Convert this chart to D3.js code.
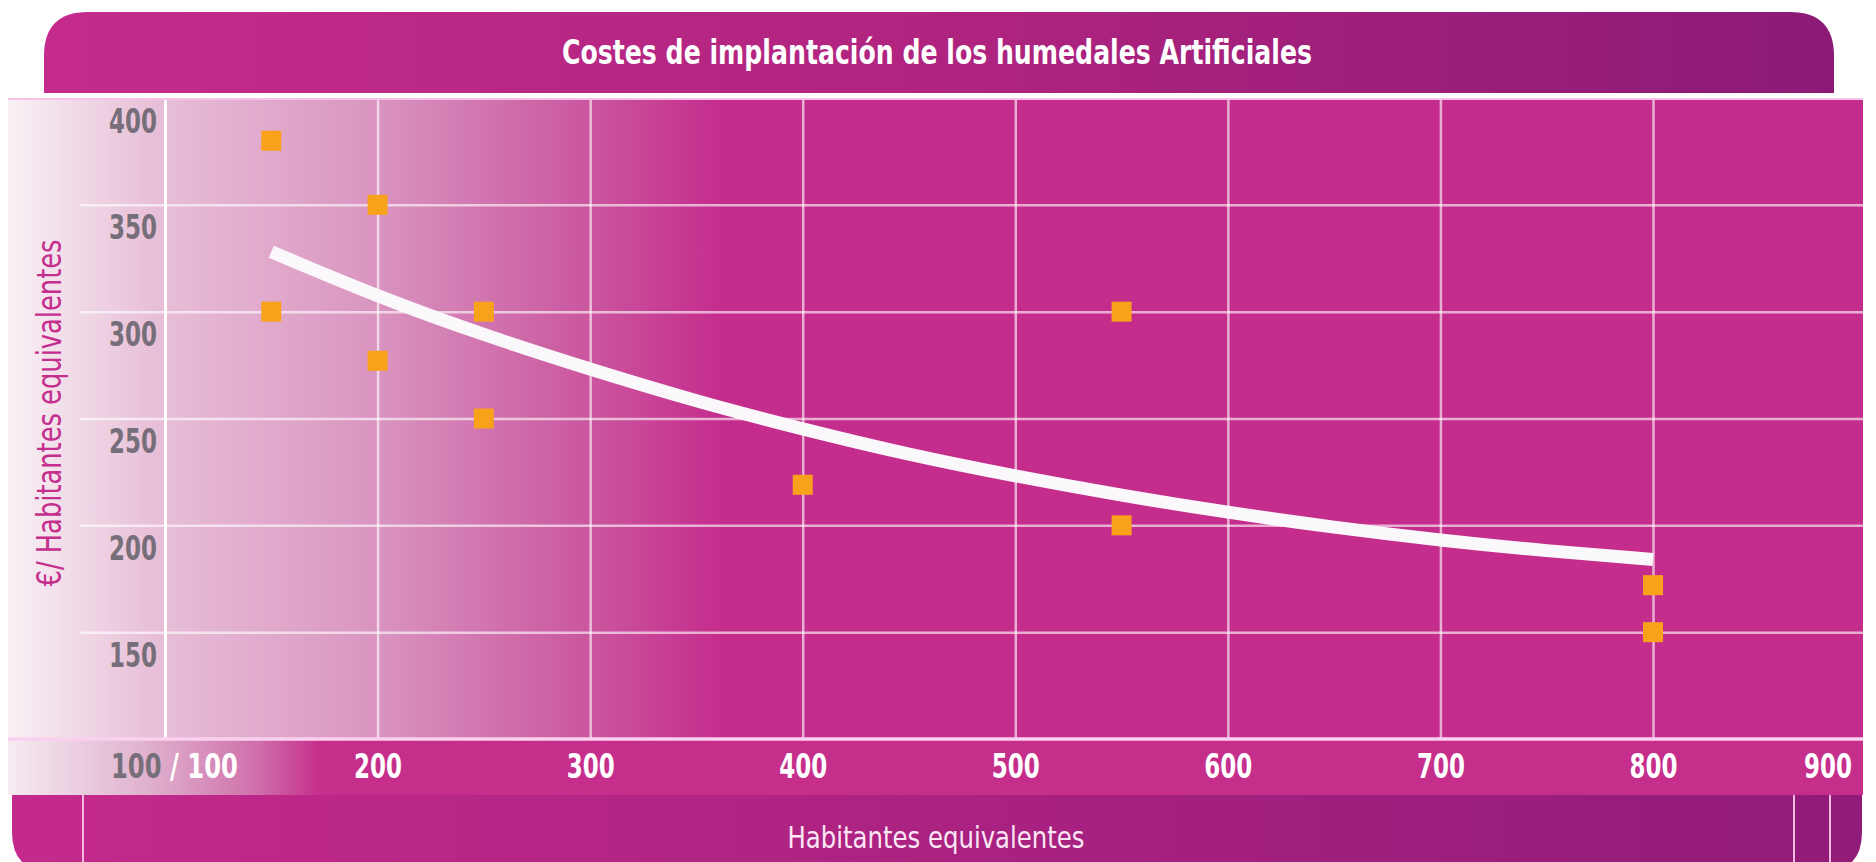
<!DOCTYPE html>
<html>
<head>
<meta charset="utf-8">
<script src="https://cdn.jsdelivr.net/npm/d3@7"></script>
<style>
  html, body { margin: 0; padding: 0; background: #ffffff; }
  svg { display: block; }
</style>
</head>
<body>
<svg id="chart" width="1876" height="862"></svg>
<script>
// data
const chartTitle = "Costes de implantación de los humedales Artificiales";
const xTitle = "Habitantes equivalentes";
const yTitle = "€/ Habitantes equivalentes";

const xTicks = [100, 200, 300, 400, 500, 600, 700, 800, 900];
const yTicks = [100, 150, 200, 250, 300, 350, 400];

// orange squares (habitantes, €/hab)
const pointX = [150, 150, 200, 200, 250, 250, 400, 550, 550, 800, 800];
const pointY = [380, 300, 350, 277, 300, 250, 219, 300, 200, 172, 150];

// white trend curve, read at every 50 habitantes
const trendX = [150, 200, 250, 300, 350, 400, 450, 500, 550, 600, 650, 700, 750, 800];
const trendY = [328, 307, 289, 273, 258, 245, 233, 223, 214, 206, 199, 193, 188, 184];

const FONT = "'Liberation Sans Narrow', 'DejaVu Sans Condensed', 'Roboto Condensed', sans-serif";

const svg = d3.select("#chart");
const defs = svg.append("defs");

// plot box
const plotLeft = 8, plotRight = 1863, plotTop = 98, plotBottom = 739;
const bandBottom = 795;

const x = d3.scaleLinear().domain([100, 800]).range([165, 1653]);
const y = d3.scaleLinear().domain([100, 400]).range([plotBottom, plotTop]);

function linearGrad(id, x1, x2, stops) {
  const g = defs.append("linearGradient")
    .attr("id", id)
    .attr("gradientUnits", "userSpaceOnUse")
    .attr("x1", x1).attr("x2", x2).attr("y1", 0).attr("y2", 0);
  stops.forEach(s => g.append("stop").attr("offset", s[0]).attr("stop-color", s[1]));
}

linearGrad("plotGrad", plotLeft, 720, [
  [0, "#f8f1f5"], [0.2, "#e8c0d8"], [0.52, "#d994c0"], [0.82, "#ca559e"], [1, "#c52d8d"]
]);
linearGrad("bandGrad", 10, 320, [
  [0, "#f6eaf1"], [0.45, "#dfb0cd"], [0.8, "#cf6fab"], [1, "#c62e8c"]
]);
linearGrad("titleGrad", 44, 1834, [
  [0, "#c42b8c"], [0.5, "#b0247f"], [1, "#8b1a76"]
]);
linearGrad("bottomGrad", 12, 1862, [
  [0, "#c42a8b"], [0.5, "#ab2281"], [1, "#911b79"]
]);

// title banner with rounded top corners
const tb = { x0: 44, x1: 1834, y0: 12, y1: 93, r: 44 };
svg.append("path")
  .attr("d", `M${tb.x0},${tb.y1} L${tb.x0},${tb.y0 + tb.r} Q${tb.x0},${tb.y0} ${tb.x0 + tb.r},${tb.y0}
    L${tb.x1 - tb.r},${tb.y0} Q${tb.x1},${tb.y0} ${tb.x1},${tb.y0 + tb.r} L${tb.x1},${tb.y1} Z`)
  .attr("fill", "url(#titleGrad)");

svg.append("text")
  .attr("x", 937).attr("y", 64)
  .attr("text-anchor", "middle")
  .attr("font-family", FONT).attr("font-weight", "bold").attr("font-size", 33)
  .attr("textLength", 750).attr("lengthAdjust", "spacingAndGlyphs")
  .attr("fill", "#ffffff")
  .text(chartTitle);

// plot background and label band
svg.append("rect")
  .attr("x", plotLeft).attr("y", plotTop)
  .attr("width", plotRight - plotLeft).attr("height", plotBottom - plotTop)
  .attr("fill", "url(#plotGrad)");
svg.append("rect")
  .attr("x", plotLeft).attr("y", plotBottom)
  .attr("width", plotRight - plotLeft).attr("height", bandBottom - plotBottom)
  .attr("fill", "url(#bandGrad)");

// bottom band with rounded bottom corners
const bb = { x0: 12, x1: 1862, y0: bandBottom, y1: 872, r: 40 };
svg.append("path")
  .attr("d", `M${bb.x0},${bb.y0} L${bb.x1},${bb.y0} L${bb.x1},${bb.y1 - bb.r} Q${bb.x1},${bb.y1} ${bb.x1 - bb.r},${bb.y1}
    L${bb.x0 + bb.r},${bb.y1} Q${bb.x0},${bb.y1} ${bb.x0},${bb.y1 - bb.r} Z`)
  .attr("fill", "url(#bottomGrad)");

[83, 1794, 1830].forEach(xv => {
  svg.append("line")
    .attr("x1", xv).attr("x2", xv).attr("y1", bandBottom).attr("y2", 862)
    .attr("stroke", "#f2b8df").attr("stroke-width", 2);
});

// horizontal grid + y tick labels
const yAxis = svg.append("g")
  .attr("transform", "translate(80,0)")
  .call(d3.axisRight(y).tickValues(yTicks.slice(1)).tickSize(plotRight - 80).tickFormat(d3.format("d")));
yAxis.select(".domain").remove();
yAxis.selectAll(".tick line")
  .attr("stroke", "#ffffff").attr("stroke-opacity", 0.62).attr("stroke-width", 2.5);
yAxis.selectAll(".tick text")
  .attr("x", 77).attr("dy", null).attr("y", 34)
  .attr("text-anchor", "end")
  .attr("font-family", FONT).attr("font-weight", "bold").attr("font-size", 33)
  .attr("textLength", 48).attr("lengthAdjust", "spacingAndGlyphs")
  .attr("fill", "#766e78");

// vertical grid + x tick labels (the 100 origin label is drawn below)
const xAxis = svg.append("g")
  .attr("transform", `translate(0,${plotBottom})`)
  .call(d3.axisBottom(x).tickValues(xTicks).tickSize(-(plotBottom - plotTop))
    .tickFormat(d => d === xTicks[0] ? "" : d3.format("d")(d)));
xAxis.select(".domain").remove();
xAxis.selectAll(".tick line")
  .attr("stroke", "#ffffff").attr("stroke-opacity", 0.62).attr("stroke-width", 2.5)
  .filter(d => d === xTicks[0]).attr("stroke-opacity", 0.95).attr("stroke-width", 3);
xAxis.selectAll(".tick line").filter(d => d > 800).remove();
xAxis.selectAll(".tick text")
  .attr("y", 39).attr("dy", null)
  .attr("font-family", FONT).attr("font-weight", "bold").attr("font-size", 33)
  .attr("textLength", 48).attr("lengthAdjust", "spacingAndGlyphs")
  .attr("fill", "#ffffff");
xAxis.selectAll(".tick text").filter(d => d === xTicks[0]).remove();
xAxis.selectAll(".tick text").filter(d => d > 800)
  .attr("text-anchor", "end").attr("x", -14);

// origin: y 100 in grey followed by x 100 in white, one single text run
const origin = svg.append("text")
  .attr("x", 111).attr("y", plotBottom + 39)
  .attr("font-family", FONT).attr("font-weight", "bold").attr("font-size", 33)
  .attr("textLength", 127).attr("lengthAdjust", "spacingAndGlyphs");
origin.append("tspan")
  .attr("fill", "#766e78")
  .text(yTicks[0]);
origin.append("tspan")
  .attr("fill", "#ffffff")
  .text(" / " + xTicks[0]);

// top edge and axis line
svg.append("line")
  .attr("x1", plotLeft).attr("x2", plotRight).attr("y1", plotTop + 1).attr("y2", plotTop + 1)
  .attr("stroke", "#f6c3e6").attr("stroke-width", 2);
svg.append("line")
  .attr("x1", plotLeft).attr("x2", plotRight).attr("y1", plotBottom).attr("y2", plotBottom)
  .attr("stroke", "#fad0ef").attr("stroke-width", 3.5);

// trend curve
const line = d3.line()
  .x((d, i) => x(trendX[i]))
  .y(d => y(d))
  .curve(d3.curveBasis);
svg.append("path")
  .datum(trendY)
  .attr("d", line)
  .attr("fill", "none")
  .attr("stroke", "#fbf8fb")
  .attr("stroke-width", 13)
  .attr("stroke-linecap", "butt");

// orange squares
const sq = 20;
svg.append("g").selectAll("rect")
  .data(pointY)
  .join("rect")
  .attr("x", (d, i) => x(pointX[i]) - sq / 2)
  .attr("y", d => y(d) - sq / 2)
  .attr("width", sq).attr("height", sq)
  .attr("fill", "#f8a21c");

// axis titles
svg.append("text")
  .attr("x", 936).attr("y", 848)
  .attr("text-anchor", "middle")
  .attr("font-family", FONT).attr("font-size", 31)
  .attr("textLength", 297).attr("lengthAdjust", "spacingAndGlyphs")
  .attr("fill", "#fbe6f4")
  .text(xTitle);

svg.append("text")
  .attr("transform", "translate(61,413) rotate(-90)")
  .attr("text-anchor", "middle")
  .attr("font-family", FONT).attr("font-size", 33)
  .attr("textLength", 347).attr("lengthAdjust", "spacingAndGlyphs")
  .attr("fill", "#c42f8e")
  .text(yTitle);
</script>
</body>
</html>
